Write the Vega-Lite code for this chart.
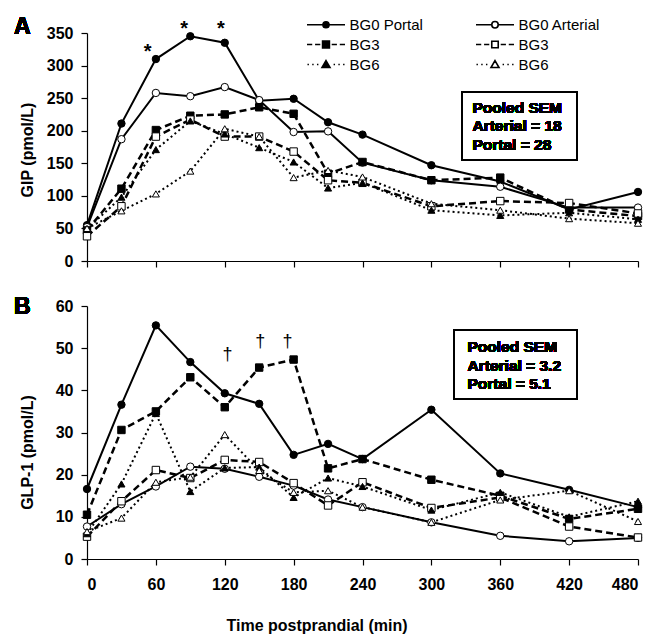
{
  "$schema": "https://vega.github.io/schema/vega-lite/v6.json",
  "padding": {"left": 13, "top": 14, "right": 0, "bottom": 0},
  "autosize": {"type": "pad"},
  "spacing": 26,
  "datasets": {
    "gip": [
      {"t":0,"g":"BG0","site":"Portal","v":55},{"t":30,"g":"BG0","site":"Portal","v":211},{"t":60,"g":"BG0","site":"Portal","v":310},{"t":90,"g":"BG0","site":"Portal","v":345},{"t":120,"g":"BG0","site":"Portal","v":335},{"t":150,"g":"BG0","site":"Portal","v":246},{"t":180,"g":"BG0","site":"Portal","v":249},{"t":210,"g":"BG0","site":"Portal","v":213},{"t":240,"g":"BG0","site":"Portal","v":194},{"t":300,"g":"BG0","site":"Portal","v":147},{"t":360,"g":"BG0","site":"Portal","v":122},{"t":420,"g":"BG0","site":"Portal","v":79},{"t":480,"g":"BG0","site":"Portal","v":106},
      {"t":0,"g":"BG0","site":"Arterial","v":52},{"t":30,"g":"BG0","site":"Arterial","v":187},{"t":60,"g":"BG0","site":"Arterial","v":258},{"t":90,"g":"BG0","site":"Arterial","v":253},{"t":120,"g":"BG0","site":"Arterial","v":267},{"t":150,"g":"BG0","site":"Arterial","v":247},{"t":180,"g":"BG0","site":"Arterial","v":198},{"t":210,"g":"BG0","site":"Arterial","v":199},{"t":240,"g":"BG0","site":"Arterial","v":151},{"t":300,"g":"BG0","site":"Arterial","v":124},{"t":360,"g":"BG0","site":"Arterial","v":114},{"t":420,"g":"BG0","site":"Arterial","v":82},{"t":480,"g":"BG0","site":"Arterial","v":82},
      {"t":0,"g":"BG3","site":"Portal","v":47},{"t":30,"g":"BG3","site":"Portal","v":111},{"t":60,"g":"BG3","site":"Portal","v":201},{"t":90,"g":"BG3","site":"Portal","v":223},{"t":120,"g":"BG3","site":"Portal","v":225},{"t":150,"g":"BG3","site":"Portal","v":236},{"t":180,"g":"BG3","site":"Portal","v":226},{"t":210,"g":"BG3","site":"Portal","v":134},{"t":240,"g":"BG3","site":"Portal","v":152},{"t":300,"g":"BG3","site":"Portal","v":124},{"t":360,"g":"BG3","site":"Portal","v":128},{"t":420,"g":"BG3","site":"Portal","v":79},{"t":480,"g":"BG3","site":"Portal","v":69},
      {"t":0,"g":"BG3","site":"Arterial","v":38},{"t":30,"g":"BG3","site":"Arterial","v":84},{"t":60,"g":"BG3","site":"Arterial","v":191},{"t":90,"g":"BG3","site":"Arterial","v":217},{"t":120,"g":"BG3","site":"Arterial","v":191},{"t":150,"g":"BG3","site":"Arterial","v":191},{"t":180,"g":"BG3","site":"Arterial","v":168},{"t":210,"g":"BG3","site":"Arterial","v":124},{"t":240,"g":"BG3","site":"Arterial","v":120},{"t":300,"g":"BG3","site":"Arterial","v":84},{"t":360,"g":"BG3","site":"Arterial","v":92},{"t":420,"g":"BG3","site":"Arterial","v":89},{"t":480,"g":"BG3","site":"Arterial","v":73},
      {"t":0,"g":"BG6","site":"Portal","v":49},{"t":30,"g":"BG6","site":"Portal","v":98},{"t":60,"g":"BG6","site":"Portal","v":171},{"t":90,"g":"BG6","site":"Portal","v":215},{"t":120,"g":"BG6","site":"Portal","v":195},{"t":150,"g":"BG6","site":"Portal","v":174},{"t":180,"g":"BG6","site":"Portal","v":152},{"t":210,"g":"BG6","site":"Portal","v":112},{"t":240,"g":"BG6","site":"Portal","v":120},{"t":300,"g":"BG6","site":"Portal","v":78},{"t":360,"g":"BG6","site":"Portal","v":70},{"t":420,"g":"BG6","site":"Portal","v":74},{"t":480,"g":"BG6","site":"Portal","v":64},
      {"t":0,"g":"BG6","site":"Arterial","v":50},{"t":30,"g":"BG6","site":"Arterial","v":77},{"t":60,"g":"BG6","site":"Arterial","v":103},{"t":90,"g":"BG6","site":"Arterial","v":138},{"t":120,"g":"BG6","site":"Arterial","v":203},{"t":150,"g":"BG6","site":"Arterial","v":191},{"t":180,"g":"BG6","site":"Arterial","v":128},{"t":210,"g":"BG6","site":"Arterial","v":139},{"t":240,"g":"BG6","site":"Arterial","v":129},{"t":300,"g":"BG6","site":"Arterial","v":88},{"t":360,"g":"BG6","site":"Arterial","v":78},{"t":420,"g":"BG6","site":"Arterial","v":65},{"t":480,"g":"BG6","site":"Arterial","v":58}
    ],
    "glp": [
      {"t":0,"g":"BG0","site":"Portal","v":16.6},{"t":30,"g":"BG0","site":"Portal","v":36.6},{"t":60,"g":"BG0","site":"Portal","v":55.4},{"t":90,"g":"BG0","site":"Portal","v":46.7},{"t":120,"g":"BG0","site":"Portal","v":39.3},{"t":150,"g":"BG0","site":"Portal","v":36.8},{"t":180,"g":"BG0","site":"Portal","v":24.7},{"t":210,"g":"BG0","site":"Portal","v":27.3},{"t":240,"g":"BG0","site":"Portal","v":23.7},{"t":300,"g":"BG0","site":"Portal","v":35.4},{"t":360,"g":"BG0","site":"Portal","v":20.3},{"t":420,"g":"BG0","site":"Portal","v":16.4},{"t":480,"g":"BG0","site":"Portal","v":12.3},
      {"t":0,"g":"BG0","site":"Arterial","v":7.7},{"t":30,"g":"BG0","site":"Arterial","v":13},{"t":60,"g":"BG0","site":"Arterial","v":17.2},{"t":90,"g":"BG0","site":"Arterial","v":21.9},{"t":120,"g":"BG0","site":"Arterial","v":21.4},{"t":150,"g":"BG0","site":"Arterial","v":19.5},{"t":180,"g":"BG0","site":"Arterial","v":17.4},{"t":210,"g":"BG0","site":"Arterial","v":14.1},{"t":240,"g":"BG0","site":"Arterial","v":12.3},{"t":300,"g":"BG0","site":"Arterial","v":8.7},{"t":360,"g":"BG0","site":"Arterial","v":5.5},{"t":420,"g":"BG0","site":"Arterial","v":4.2},{"t":480,"g":"BG0","site":"Arterial","v":5},
      {"t":0,"g":"BG3","site":"Portal","v":10.5},{"t":30,"g":"BG3","site":"Portal","v":30.6},{"t":60,"g":"BG3","site":"Portal","v":35},{"t":90,"g":"BG3","site":"Portal","v":43.1},{"t":120,"g":"BG3","site":"Portal","v":36},{"t":150,"g":"BG3","site":"Portal","v":45.4},{"t":180,"g":"BG3","site":"Portal","v":47.3},{"t":210,"g":"BG3","site":"Portal","v":21.5},{"t":240,"g":"BG3","site":"Portal","v":23.7},{"t":300,"g":"BG3","site":"Portal","v":18.8},{"t":360,"g":"BG3","site":"Portal","v":15},{"t":420,"g":"BG3","site":"Portal","v":9.5},{"t":480,"g":"BG3","site":"Portal","v":11.9},
      {"t":0,"g":"BG3","site":"Arterial","v":5.3},{"t":30,"g":"BG3","site":"Arterial","v":13.7},{"t":60,"g":"BG3","site":"Arterial","v":21.1},{"t":90,"g":"BG3","site":"Arterial","v":19.2},{"t":120,"g":"BG3","site":"Arterial","v":23.5},{"t":150,"g":"BG3","site":"Arterial","v":23},{"t":180,"g":"BG3","site":"Arterial","v":18},{"t":210,"g":"BG3","site":"Arterial","v":12.7},{"t":240,"g":"BG3","site":"Arterial","v":18.2},{"t":300,"g":"BG3","site":"Arterial","v":12.1},{"t":360,"g":"BG3","site":"Arterial","v":14.6},{"t":420,"g":"BG3","site":"Arterial","v":7.7},{"t":480,"g":"BG3","site":"Arterial","v":5.1},
      {"t":0,"g":"BG6","site":"Portal","v":6},{"t":30,"g":"BG6","site":"Portal","v":17.8},{"t":60,"g":"BG6","site":"Portal","v":34.5},{"t":90,"g":"BG6","site":"Portal","v":16},{"t":120,"g":"BG6","site":"Portal","v":21.6},{"t":150,"g":"BG6","site":"Portal","v":21.8},{"t":180,"g":"BG6","site":"Portal","v":14.6},{"t":210,"g":"BG6","site":"Portal","v":19.2},{"t":240,"g":"BG6","site":"Portal","v":17.2},{"t":300,"g":"BG6","site":"Portal","v":11.6},{"t":360,"g":"BG6","site":"Portal","v":15.8},{"t":420,"g":"BG6","site":"Portal","v":10},{"t":480,"g":"BG6","site":"Portal","v":13.7},
      {"t":0,"g":"BG6","site":"Arterial","v":6.5},{"t":30,"g":"BG6","site":"Arterial","v":9.7},{"t":60,"g":"BG6","site":"Arterial","v":18.2},{"t":90,"g":"BG6","site":"Arterial","v":19.4},{"t":120,"g":"BG6","site":"Arterial","v":29.5},{"t":150,"g":"BG6","site":"Arterial","v":21},{"t":180,"g":"BG6","site":"Arterial","v":15.8},{"t":210,"g":"BG6","site":"Arterial","v":16.2},{"t":240,"g":"BG6","site":"Arterial","v":12.3},{"t":300,"g":"BG6","site":"Arterial","v":8.7},{"t":360,"g":"BG6","site":"Arterial","v":14},{"t":420,"g":"BG6","site":"Arterial","v":16.2},{"t":480,"g":"BG6","site":"Arterial","v":8.9}
    ]
  },
  "vconcat": [
    {
      "width": 551,
      "height": 228,
      "data": {"name": "gip"},
      "encoding": {
        "x": {"field": "t", "type": "quantitative", "scale": {"domain": [0, 480], "nice": false}, "axis": {"values": [0, 60, 120, 180, 240, 300, 360, 420, 480], "labels": false, "title": null}},
        "y": {"field": "v", "type": "quantitative", "scale": {"domain": [0, 350], "nice": false}, "axis": {"values": [0, 50, 100, 150, 200, 250, 300, 350], "title": "GIP (pmol/L)", "titleX": -52, "titleY": 116.5}}
      },
      "layer": [
        {"transform": [{"filter": "datum.g === 'BG0'"}], "mark": {"type": "line", "color": "black", "strokeWidth": 2}, "encoding": {"detail": {"field": "site"}}},
        {"transform": [{"filter": "datum.g === 'BG3'"}], "mark": {"type": "line", "color": "black", "strokeWidth": 2.5, "strokeDash": [7, 4]}, "encoding": {"detail": {"field": "site"}}},
        {"transform": [{"filter": "datum.g === 'BG6'"}], "mark": {"type": "line", "color": "black", "strokeWidth": 2, "strokeDash": [2, 3]}, "encoding": {"detail": {"field": "site"}}},
        {"transform": [{"filter": "datum.g === 'BG0'"}], "mark": {"type": "point", "shape": "circle", "filled": true, "size": 55, "stroke": "black", "strokeWidth": 1, "opacity": 1}, "encoding": {"fill": {"condition": {"test": "datum.site === 'Portal'", "value": "black"}, "value": "white"}}},
        {"transform": [{"filter": "datum.g === 'BG3'"}], "mark": {"type": "point", "shape": "square", "filled": true, "size": 55, "stroke": "black", "strokeWidth": 1, "opacity": 1}, "encoding": {"fill": {"condition": {"test": "datum.site === 'Portal'", "value": "black"}, "value": "white"}}},
        {"transform": [{"filter": "datum.g === 'BG6'"}], "mark": {"type": "point", "shape": "triangle-up", "filled": true, "size": 50, "stroke": "black", "strokeWidth": 1, "opacity": 1}, "encoding": {"fill": {"condition": {"test": "datum.site === 'Portal'", "value": "black"}, "value": "white"}}},
        {
          "data": {"values": [{"t": 52.9, "v": 311, "m": "*"}, {"t": 84.7, "v": 347, "m": "*"}, {"t": 116.7, "v": 347, "m": "*"}]},
          "mark": {"type": "text", "fontSize": 20, "fontWeight": "bold", "align": "center", "baseline": "alphabetic", "color": "black"},
          "encoding": {"text": {"field": "m"}}
        },
        {
          "mark": {"type": "text", "fontSize": 23, "fontWeight": "bold", "align": "left", "baseline": "alphabetic", "color": "black"},
          "encoding": {"x": {"datum": -63.6, "type": "quantitative"}, "y": {"datum": 347.7, "type": "quantitative"}, "text": {"value": "A"}}
        },
        {
          "mark": {"type": "rect", "filled": false, "stroke": "black", "strokeWidth": 1.2},
          "encoding": {"x": {"datum": 326.5, "type": "quantitative"}, "x2": {"datum": 427.2}, "y": {"datum": 259, "type": "quantitative"}, "y2": {"datum": 154.7}}
        },
        {
          "mark": {"type": "text", "align": "left", "baseline": "alphabetic", "fontSize": 15.5, "fontWeight": "bold", "lineHeight": 18.5, "color": "black"},
          "encoding": {"x": {"datum": 335.8, "type": "quantitative"}, "y": {"datum": 227.3, "type": "quantitative"}, "text": {"value": ["Pooled SEM", "Arterial = 18", "Portal = 28"]}}
        },
        {
          "transform": [{"filter": "false"}],
          "mark": {"type": "point", "filled": false, "color": "black", "strokeWidth": 1.6, "opacity": 1},
          "encoding": {
            "shape": {
              "field": "s", "type": "nominal",
              "scale": {
                "domain": ["BG0 Portal", "BG0 Arterial", "BG3 Portal", "BG3 Arterial", "BG6 Portal", "BG6 Arterial"],
                "range": [
                  "M-2,0H-0.34M0.34,0H2M-0.32,0A0.32,0.32,0,1,0,0.32,0A0.32,0.32,0,1,0,-0.32,0Z",
                  "M-2,0H-0.36M0.36,0H2M-0.34,0A0.34,0.34,0,1,0,0.34,0A0.34,0.34,0,1,0,-0.34,0Z",
                  "M-2,0H-1.45M-1.15,0H-0.6M0.6,0H1.15M1.45,0H2M-0.36,-0.36H0.36V0.36H-0.36Z",
                  "M-2,0H-1.45M-1.15,0H-0.6M0.6,0H1.15M1.45,0H2M-0.34,-0.34H0.34V0.34H-0.34Z",
                  "M-1.95,0H-1.8M-1.45,0H-1.3M-0.95,0H-0.8M0.8,0H0.95M1.3,0H1.45M1.8,0H1.95M0,-0.4L0.42,0.32H-0.42Z",
                  "M-1.95,0H-1.8M-1.45,0H-1.3M-0.95,0H-0.8M0.8,0H0.95M1.3,0H1.45M1.8,0H1.95M0,-0.4L0.42,0.32H-0.42Z"
                ]
              },
              "legend": {
                "orient": "none", "legendX": 228.5, "legendY": -19, "direction": "horizontal", "columns": 2, "columnPadding": 49, "rowPadding": 1,
                "symbolSize": 361, "labelOffset": 13, "labelFontSize": 15, "labelColor": "black", "title": null, "padding": 0,
                "symbolStrokeWidth": 1.6, "labelLimit": 0,
                "labelExpr": "indexof(datum.label, 'BG0') === 0 ? datum.label : slice(datum.label, 0, 3)"
              }
            },
            "fill": {
              "field": "s", "type": "nominal",
              "scale": {
                "domain": ["BG0 Portal", "BG0 Arterial", "BG3 Portal", "BG3 Arterial", "BG6 Portal", "BG6 Arterial"],
                "range": ["black", "white", "black", "white", "black", "white"]
              },
              "legend": {
                "orient": "none", "legendX": 228.5, "legendY": -19, "direction": "horizontal", "columns": 2, "columnPadding": 49, "rowPadding": 1,
                "symbolSize": 361, "labelOffset": 13, "labelFontSize": 15, "labelColor": "black", "title": null, "padding": 0,
                "symbolStrokeWidth": 1.6, "labelLimit": 0,
                "labelExpr": "indexof(datum.label, 'BG0') === 0 ? datum.label : slice(datum.label, 0, 3)"
              }
            }
          }
        }
      ]
    },
    {
      "width": 551,
      "height": 253,
      "data": {"name": "glp"},
      "encoding": {
        "x": {"field": "t", "type": "quantitative", "scale": {"domain": [0, 480], "nice": false}, "axis": {"values": [0, 60, 120, 180, 240, 300, 360, 420, 480], "labelPadding": 11, "title": "Time postprandial (min)", "titleX": 229.5, "titleY": 71.7, "titleBaseline": "alphabetic", "titleAlign": "center"}},
        "y": {"field": "v", "type": "quantitative", "scale": {"domain": [0, 60], "nice": false}, "axis": {"values": [0, 10, 20, 30, 40, 50, 60], "title": "GLP-1 (pmol/L)", "titleX": -52, "titleY": 146}}
      },
      "layer": [
        {"transform": [{"filter": "datum.g === 'BG0'"}], "mark": {"type": "line", "color": "black", "strokeWidth": 2}, "encoding": {"detail": {"field": "site"}}},
        {"transform": [{"filter": "datum.g === 'BG3'"}], "mark": {"type": "line", "color": "black", "strokeWidth": 2.5, "strokeDash": [7, 4]}, "encoding": {"detail": {"field": "site"}}},
        {"transform": [{"filter": "datum.g === 'BG6'"}], "mark": {"type": "line", "color": "black", "strokeWidth": 2, "strokeDash": [2, 3]}, "encoding": {"detail": {"field": "site"}}},
        {"transform": [{"filter": "datum.g === 'BG0'"}], "mark": {"type": "point", "shape": "circle", "filled": true, "size": 55, "stroke": "black", "strokeWidth": 1, "opacity": 1}, "encoding": {"fill": {"condition": {"test": "datum.site === 'Portal'", "value": "black"}, "value": "white"}}},
        {"transform": [{"filter": "datum.g === 'BG3'"}], "mark": {"type": "point", "shape": "square", "filled": true, "size": 55, "stroke": "black", "strokeWidth": 1, "opacity": 1}, "encoding": {"fill": {"condition": {"test": "datum.site === 'Portal'", "value": "black"}, "value": "white"}}},
        {"transform": [{"filter": "datum.g === 'BG6'"}], "mark": {"type": "point", "shape": "triangle-up", "filled": true, "size": 50, "stroke": "black", "strokeWidth": 1, "opacity": 1}, "encoding": {"fill": {"condition": {"test": "datum.site === 'Portal'", "value": "black"}, "value": "white"}}},
        {
          "data": {"values": [{"t": 122.5, "v": 47.1, "m": "†"}, {"t": 150.9, "v": 50.3, "m": "†"}, {"t": 174.7, "v": 50.3, "m": "†"}]},
          "mark": {"type": "text", "fontSize": 18, "align": "center", "baseline": "alphabetic", "color": "black"},
          "encoding": {"text": {"field": "m"}}
        },
        {
          "mark": {"type": "text", "fontSize": 23, "fontWeight": "bold", "align": "left", "baseline": "alphabetic", "color": "black"},
          "encoding": {"x": {"datum": -63.6, "type": "quantitative"}, "y": {"datum": 58.2, "type": "quantitative"}, "text": {"value": "B"}}
        },
        {
          "mark": {"type": "rect", "filled": false, "stroke": "black", "strokeWidth": 1.2},
          "encoding": {"x": {"datum": 319.8, "type": "quantitative"}, "x2": {"datum": 427.2}, "y": {"datum": 54.2, "type": "quantitative"}, "y2": {"datum": 38.0}}
        },
        {
          "mark": {"type": "text", "align": "left", "baseline": "alphabetic", "fontSize": 15.5, "fontWeight": "bold", "lineHeight": 18.7, "color": "black"},
          "encoding": {"x": {"datum": 331.5, "type": "quantitative"}, "y": {"datum": 49.1, "type": "quantitative"}, "text": {"value": ["Pooled SEM", "Arterial = 3.2", "Portal = 5.1"]}}
        }
      ]
    }
  ],
  "resolve": {"scale": {"shape": "independent", "fill": "independent"}, "legend": {"shape": "independent", "fill": "independent"}},
  "config": {
    "font": "Liberation Sans",
    "view": {"stroke": null},
    "background": "white",
    "axis": {
      "grid": false,
      "domainColor": "black",
      "domainWidth": 1.2,
      "tickColor": "black",
      "tickWidth": 1.2,
      "tickSize": 6,
      "labelColor": "black",
      "labelFontSize": 16,
      "labelFontWeight": "bold",
      "labelPadding": 8,
      "titleColor": "black",
      "titleFontSize": 16,
      "titleFontWeight": "bold"
    }
  }
}
